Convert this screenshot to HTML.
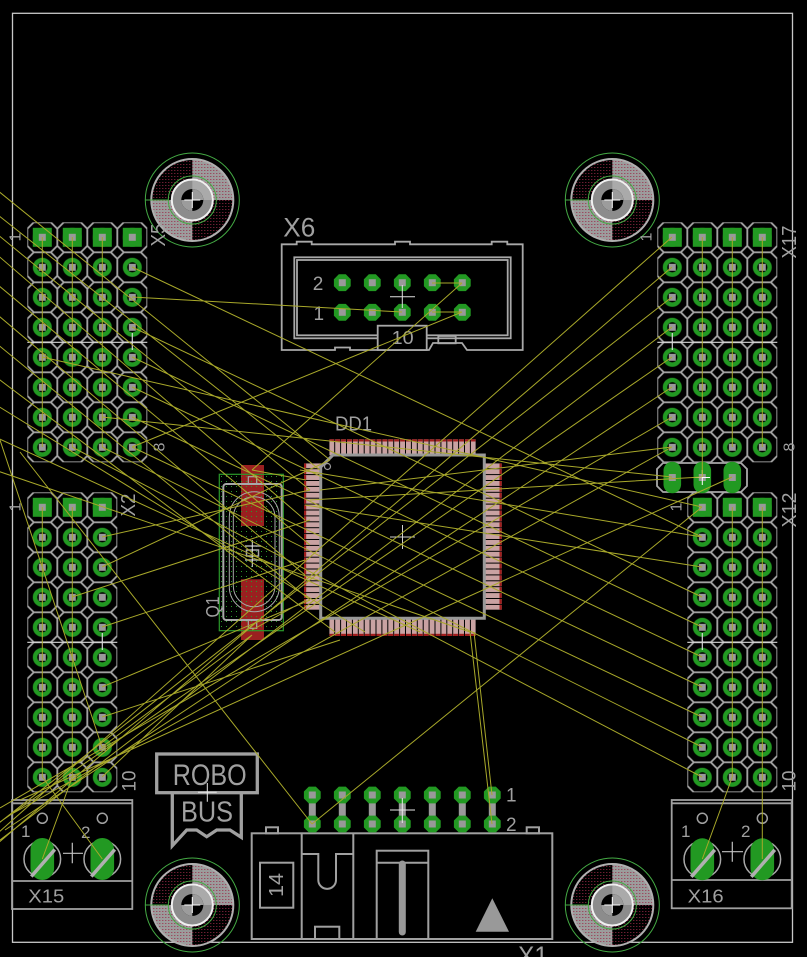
<!DOCTYPE html>
<html><head><meta charset="utf-8"><style>
html,body{margin:0;padding:0;background:#000;}
svg{display:block;}
text{font-family:"Liberation Sans",sans-serif;fill:#a0a0a0;}
</style></head><body>
<svg width="807" height="957" viewBox="0 0 807 957" xmlns="http://www.w3.org/2000/svg">
<defs>
<pattern id="hdr" patternUnits="userSpaceOnUse" x="27.3" y="222.3" width="30" height="30">
 <path d="M6.5,0H23.5L30,6.5V23.5L23.5,30H6.5L0,23.5V6.5Z" fill="none" stroke="#a8a8a8" stroke-width="1.8"/>
 <circle cx="15" cy="15" r="7.3" fill="none" stroke="#229922" stroke-width="4.4"/>
 <rect x="11.5" y="11.5" width="7" height="7" fill="#999"/>
</pattern>
<pattern id="pv" patternUnits="userSpaceOnUse" x="329.3" y="0" width="5.9" height="957"><rect width="4.9" height="957" fill="#c9a2a2"/></pattern>
<pattern id="pvr" patternUnits="userSpaceOnUse" x="329.3" y="0" width="5.9" height="957"><rect width="4.9" height="957" fill="#a01c1c"/></pattern>
<pattern id="ph" patternUnits="userSpaceOnUse" x="0" y="463.3" width="807" height="5.9"><rect width="807" height="4.9" fill="#c9a2a2"/></pattern>
<pattern id="phr" patternUnits="userSpaceOnUse" x="0" y="463.3" width="807" height="5.9"><rect width="807" height="4.9" fill="#a01c1c"/></pattern>
<pattern id="gd" patternUnits="userSpaceOnUse" x="219" y="474" width="5" height="5"><rect x="2" y="2" width="1" height="1" fill="#2a9a2a"/></pattern>
<pattern id="pd" patternUnits="userSpaceOnUse" x="0" y="0" width="3" height="3"><rect width="1" height="1" fill="#9a2a48"/></pattern>
<g id="mh">
 <circle r="41" fill="#000"/>
 <path d="M0 0V-41A41 41 0 0 1 41 0Z" fill="#9c9c9c"/>
 <path d="M0 0V41A41 41 0 0 1 -41 0Z" fill="#9c9c9c"/>
 <circle r="41" fill="url(#pd)"/>
 <circle r="41" fill="none" stroke="#b0b0b0" stroke-width="2"/>
 <circle r="47" fill="none" stroke="#44aa44" stroke-width="1"/>
 <line x1="-47" y1="0" x2="-24" y2="0" stroke="#44aa44"/>
 <circle r="24" fill="none" stroke="#44aa44"/>
 <circle r="20.5" fill="#8c8c8c" stroke="#f0f0f0" stroke-width="2"/>
 <path d="M0 0V-19.5A19.5 19.5 0 0 1 19.5 0Z" fill="#aaaaaa"/>
 <circle r="11" fill="#000"/>
 <path d="M0 0V-11A11 11 0 0 1 11 0Z" fill="#9c9c9c"/>
 <path d="M0 0V11A11 11 0 0 1 -11 0Z" fill="#9c9c9c"/>
 <path d="M-8 0H8M0 -8V8" stroke="#fff" stroke-width="1"/>
</g>
<g id="op"><path d="M-3.5,-8.4H3.5L8.4,-3.5V3.5L3.5,8.4H-3.5L-8.4,3.5V-3.5Z" fill="#229922"/><rect x="-3.5" y="-3.5" width="7" height="7" fill="#999"/></g>
<g id="sq"><rect x="-9.5" y="-9.5" width="19" height="19" fill="#229922"/><rect x="-3.5" y="-3.5" width="7" height="7" fill="#999"/></g>
<g id="tp"><circle r="18.3" fill="none" stroke="#a8a8a8" stroke-width="1.5"/><rect x="-11.8" y="-21" width="23.6" height="42" rx="11.8" fill="#229922"/><line x1="-11" y1="17.5" x2="12.5" y2="-9.5" stroke="#b0b0b0" stroke-width="3.5"/></g>
<g id="jp"><rect x="-8.8" y="-15.8" width="17.6" height="31.6" rx="8.8" fill="#229922"/><rect x="-3.5" y="-3.5" width="7" height="7" fill="#999"/></g>
</defs>

<rect width="807" height="957" fill="#000"/>
<rect x="12.5" y="13.3" width="780" height="929" fill="none" stroke="#c8c8c8" stroke-width="1.3"/>

<use href="#mh" x="192.3" y="200"/>
<use href="#mh" x="612.3" y="200"/>
<use href="#mh" x="192.3" y="905"/>
<use href="#mh" x="612.3" y="905"/>

<rect x="27.3" y="222.3" width="120" height="240" fill="url(#hdr)"/>
<rect x="27.3" y="492.3" width="90" height="300" fill="url(#hdr)"/>
<rect x="657.3" y="222.3" width="120" height="240" fill="url(#hdr)"/>
<rect x="687.3" y="492.3" width="90" height="300" fill="url(#hdr)"/>
<g stroke="#d8d8d8" stroke-width="1.2">
<line x1="27.3" y1="342.3" x2="147.3" y2="342.3"/>
<line x1="27.3" y1="642.3" x2="117.3" y2="642.3"/>
<line x1="657.3" y1="342.3" x2="777.3" y2="342.3"/>
<line x1="687.3" y1="642.3" x2="777.3" y2="642.3"/>
<line x1="132.3" y1="333" x2="132.3" y2="350"/>
<line x1="102.3" y1="633" x2="102.3" y2="650"/>
<line x1="672.3" y1="333" x2="672.3" y2="350"/>
<line x1="702.3" y1="633" x2="702.3" y2="650"/>
</g>
<use href="#sq" x="42.3" y="237.3"/><use href="#sq" x="72.3" y="237.3"/><use href="#sq" x="102.3" y="237.3"/><use href="#sq" x="132.3" y="237.3"/>
<use href="#sq" x="42.3" y="507.3"/><use href="#sq" x="72.3" y="507.3"/><use href="#sq" x="102.3" y="507.3"/>
<use href="#sq" x="672.3" y="237.3"/><use href="#sq" x="702.3" y="237.3"/><use href="#sq" x="732.3" y="237.3"/><use href="#sq" x="762.3" y="237.3"/>
<use href="#sq" x="702.3" y="507.3"/><use href="#sq" x="732.3" y="507.3"/><use href="#sq" x="762.3" y="507.3"/>

<path d="M663 463H741L747 469V486L741 492H663L657 486V469Z" fill="none" stroke="#a8a8a8" stroke-width="1.8"/>
<use href="#jp" x="672.3" y="477.5"/><use href="#jp" x="702.3" y="477.5"/><use href="#jp" x="732.3" y="477.5"/>
<path d="M694 477.5H710M702.3 470V485" stroke="#fff" stroke-width="1"/>

<text font-size="16" text-anchor="middle" dominant-baseline="central" transform="translate(16,237) rotate(-90)">1</text>
<text font-size="20" text-anchor="middle" dominant-baseline="central" textLength="23" lengthAdjust="spacingAndGlyphs" transform="translate(159,235) rotate(-90)">X5</text>
<text font-size="16" text-anchor="middle" dominant-baseline="central" transform="translate(160,447) rotate(-90)">8</text>
<text font-size="16" text-anchor="middle" dominant-baseline="central" transform="translate(16,507) rotate(-90)">1</text>
<text font-size="20" text-anchor="middle" dominant-baseline="central" textLength="23" lengthAdjust="spacingAndGlyphs" transform="translate(129,505) rotate(-90)">X2</text>
<text font-size="19" text-anchor="middle" dominant-baseline="central" textLength="21" lengthAdjust="spacingAndGlyphs" transform="translate(130,781) rotate(-90)">10</text>
<text font-size="16" text-anchor="middle" dominant-baseline="central" transform="translate(647,237) rotate(-90)">1</text>
<text font-size="20" text-anchor="middle" dominant-baseline="central" textLength="33" lengthAdjust="spacingAndGlyphs" transform="translate(790,242) rotate(-90)">X17</text>
<text font-size="16" text-anchor="middle" dominant-baseline="central" transform="translate(790,447) rotate(-90)">8</text>
<text font-size="16" text-anchor="middle" dominant-baseline="central" transform="translate(677,507) rotate(-90)">1</text>
<text font-size="20" text-anchor="middle" dominant-baseline="central" textLength="35" lengthAdjust="spacingAndGlyphs" transform="translate(790,510) rotate(-90)">X12</text>
<text font-size="19" text-anchor="middle" dominant-baseline="central" textLength="21" lengthAdjust="spacingAndGlyphs" transform="translate(790,781) rotate(-90)">10</text>

<g fill="none" stroke="#a8a8a8" stroke-width="1.8">
<path d="M281.7 244.3H296.7V241.7H311.7V244.3H395V241.7H410V244.3H491.7V241.7H507.3V244.3H522.7V350H467L462 343H433L429 350H350V347.5H335V350H281.7Z"/>
<rect x="294.3" y="257.3" width="216.4" height="81"/>
<rect x="297" y="260" width="210.7" height="75.3"/>
<rect x="438.3" y="336" width="17.4" height="7.3"/>
<rect x="377.7" y="325.7" width="49" height="24.3" fill="#000"/>
</g>
<use href="#op" x="342.3" y="282.7"/><use href="#op" x="372.3" y="282.7"/><use href="#op" x="402.3" y="282.7"/><use href="#op" x="432.3" y="282.7"/><use href="#op" x="462.3" y="282.7"/>
<use href="#op" x="342.3" y="312.3"/><use href="#op" x="372.3" y="312.3"/><use href="#op" x="402.3" y="312.3"/><use href="#op" x="432.3" y="312.3"/><use href="#op" x="462.3" y="312.3"/>
<path d="M390 296.7H415M402.3 285V308" stroke="#e0e0e0" stroke-width="1"/>
<text x="283.3" y="236.7" font-size="27" textLength="32" lengthAdjust="spacingAndGlyphs">X6</text>
<text x="391.7" y="344" font-size="18.5" textLength="22" lengthAdjust="spacingAndGlyphs">10</text>
<text x="312.7" y="290" font-size="19">2</text>
<text x="313.5" y="320" font-size="19">1</text>

<rect x="329.3" y="439.3" width="146.4" height="16" fill="url(#pv)"/>
<rect x="329.3" y="439.3" width="146.4" height="2.2" fill="url(#pvr)"/>
<rect x="329.3" y="618" width="146.4" height="18" fill="url(#pv)"/>
<rect x="329.3" y="633.8" width="146.4" height="2.2" fill="url(#pvr)"/>
<rect x="304" y="463.3" width="17" height="146.5" fill="url(#ph)"/>
<rect x="304" y="463.3" width="2.2" height="146.5" fill="url(#phr)"/>
<rect x="484" y="463.3" width="17.7" height="146.5" fill="url(#ph)"/>
<rect x="499.5" y="463.3" width="2.2" height="146.5" fill="url(#phr)"/>
<path d="M333 455H484.3V618.3H320.7V467Z" fill="none" stroke="#999" stroke-width="3"/>
<circle cx="327.5" cy="466.5" r="3" fill="none" stroke="#999" stroke-width="1.2"/>
<path d="M390 537H415M402.5 525V549" stroke="#d0d0d0" stroke-width="1"/>
<text x="335" y="430.7" font-size="20" textLength="37" lengthAdjust="spacingAndGlyphs">DD1</text>

<rect x="219.3" y="474.3" width="64" height="156.4" fill="url(#gd)"/>
<rect x="241" y="465" width="23" height="61" fill="#9a2020"/>
<rect x="241" y="579.3" width="23" height="60.7" fill="#9a2020"/>
<rect x="219.3" y="474.3" width="64" height="156.4" fill="url(#gd)"/>
<rect x="219.3" y="474.3" width="64" height="156.4" fill="none" stroke="#2a9a2a" stroke-width="1.2"/>
<g fill="none" stroke="#a8a8a8">
<rect x="223.3" y="484" width="58.4" height="136" rx="3" stroke-width="2"/>
<rect x="229.3" y="491.7" width="50" height="120" rx="25" stroke-width="1"/>
<rect x="233.3" y="496.7" width="41.7" height="110" rx="20.8" stroke-width="1"/>
<rect x="248.3" y="476.7" width="8.4" height="7.6" stroke-width="1.2"/>
<rect x="248.3" y="620" width="8.4" height="8.3" stroke-width="1.2"/>
<path d="M245 546H261M245 560H261" stroke-width="1.5"/>
<rect x="246.5" y="550" width="12" height="6" stroke-width="1.5"/>
</g>
<line x1="252.3" y1="540" x2="252.3" y2="567" stroke="#e0e0e0"/>
<text font-size="18" text-anchor="middle" dominant-baseline="central" textLength="21" lengthAdjust="spacingAndGlyphs" transform="translate(213,607) rotate(-90)">Q1</text>

<g fill="none" stroke="#a0a0a0" stroke-width="3.3">
<rect x="156.7" y="754" width="100.6" height="38.7"/>
<path d="M172.3 792.7V845.7L186.7 830H196.7L206.7 836.7L216.7 830H230L241.3 837.3V792.7"/>
</g>
<text x="172.7" y="785" font-size="30" textLength="74" lengthAdjust="spacingAndGlyphs">ROBO</text>
<text x="181" y="821.7" font-size="29" textLength="52" lengthAdjust="spacingAndGlyphs">BUS</text>
<path d="M198 792.3H216.7M207.3 783V801.7" stroke="#e8e8e8" stroke-width="1"/>

<g fill="none" stroke="#a0a0a0" stroke-width="1.8">
<rect x="12" y="800" width="120.3" height="109"/>
<line x1="12" y1="803.3" x2="132.3" y2="803.3"/>
<line x1="12" y1="881" x2="132.3" y2="881"/>
<circle cx="42.3" cy="818.3" r="5" stroke-width="1.5"/>
<circle cx="102.3" cy="818.3" r="5" stroke-width="1.5"/>
</g>
<use href="#tp" x="42.3" y="859"/><use href="#tp" x="102.3" y="859"/>
<path d="M63 853.3H83M72.3 842.7V863.3" stroke="#c0c0c0" stroke-width="1.2"/>
<text x="21" y="837" font-size="17">1</text>
<text x="81" y="838" font-size="17">2</text>
<text x="28.3" y="902.3" font-size="18" textLength="36" lengthAdjust="spacingAndGlyphs">X15</text>

<g fill="none" stroke="#a0a0a0" stroke-width="1.8">
<rect x="671.7" y="800" width="120" height="108.3"/>
<line x1="671.7" y1="803.3" x2="791.7" y2="803.3"/>
<line x1="671.7" y1="880" x2="791.7" y2="880"/>
<circle cx="702.3" cy="818.3" r="5" stroke-width="1.5"/>
<circle cx="762.3" cy="818.3" r="5" stroke-width="1.5"/>
</g>
<use href="#tp" x="702.3" y="859.3"/><use href="#tp" x="762.3" y="859.3"/>
<path d="M722 851.7H743M732.3 841.7V861.7" stroke="#c0c0c0" stroke-width="1.2"/>
<text x="681" y="837" font-size="17">1</text>
<text x="741" y="837" font-size="17">2</text>
<text x="687.7" y="902.3" font-size="18" textLength="36" lengthAdjust="spacingAndGlyphs">X16</text>

<g fill="none" stroke="#a0a0a0" stroke-width="2">
<rect x="251.7" y="833.3" width="300.6" height="105.7"/>
<rect x="266" y="827.3" width="12" height="6"/>
<rect x="526.7" y="827.3" width="12.3" height="6"/>
<line x1="301.7" y1="833.3" x2="301.7" y2="939"/>
<line x1="353.3" y1="833.3" x2="353.3" y2="939"/>
<rect x="260" y="862.7" width="33.3" height="45"/>
<path d="M301.7 854H318.3V880A8.85 8.85 0 0 0 336 880V854H353.3"/>
<rect x="315" y="926.7" width="24.3" height="12.3"/>
<rect x="376.7" y="850.7" width="51.6" height="88.3"/>
<line x1="376.7" y1="862.7" x2="428.3" y2="862.7"/>
</g>
<line x1="402.3" y1="864" x2="402.3" y2="932" stroke="#999" stroke-width="7" stroke-linecap="round"/>
<polygon points="492.3,898.3 475.7,931.7 509,931.7" fill="#999"/>
<text font-size="20" text-anchor="middle" dominant-baseline="central" textLength="24" lengthAdjust="spacingAndGlyphs" transform="translate(277,885) rotate(-90)">14</text>
<g fill="#999">
<rect x="308.8" y="795" width="7" height="29"/><rect x="338.8" y="795" width="7" height="29"/><rect x="368.8" y="795" width="7" height="29"/><rect x="398.8" y="795" width="7" height="29"/><rect x="428.8" y="795" width="7" height="29"/><rect x="458.8" y="795" width="7" height="29"/><rect x="488.8" y="795" width="7" height="29"/>
</g>
<use href="#op" x="312.3" y="795"/><use href="#op" x="342.3" y="795"/><use href="#op" x="372.3" y="795"/><use href="#op" x="402.3" y="795"/><use href="#op" x="432.3" y="795"/><use href="#op" x="462.3" y="795"/><use href="#op" x="492.3" y="795"/>
<use href="#op" x="312.3" y="824"/><use href="#op" x="342.3" y="824"/><use href="#op" x="372.3" y="824"/><use href="#op" x="402.3" y="824"/><use href="#op" x="432.3" y="824"/><use href="#op" x="462.3" y="824"/><use href="#op" x="492.3" y="824"/>
<path d="M390 810H415M402.3 798V823" stroke="#e8e8e8" stroke-width="1"/>
<text x="506" y="801.7" font-size="19">1</text>
<text x="506" y="831" font-size="19">2</text>
<text x="518" y="965" font-size="27" textLength="30" lengthAdjust="spacingAndGlyphs">X1</text>

<path fill="none" stroke="#a8a82a" stroke-width="1" d="
M42.3 237L42.3 447 M72.3 237L72.3 447 M102.3 237L102.3 447
M42.3 507L42.3 777 M72.3 507L72.3 777
M702.3 237L702.3 477 M732.3 237L732.3 447 M762.3 237L762.3 447
M732.3 507L732.3 777 M762.3 507L762.3 859
M702.3 859L732.3 777
M42.3 859L72.3 777 M102.3 859L42.3 777
M432 283L462 283 M432 312L462 312 M132 297L402 312 M462 283L252 470 M462 312L132 447
M132 267L702 537 M132 327L702 597 M132 357L702 627 M132 387L702 657 M132 417L702 687 M132 447L702 717
M102 447L702 747 M72 447L702 777 M102 417L672 477 M42 357L702 507
M-10 840L672 237 M-10 850L672 267 M-10 830L672 297 M0 840L672 327 M0 822L672 357 M5 830L672 387 M0 808L672 417 M10 815L672 447 M20 800L732 477
M312 824L702 507 M312 824L20 452 M470 632L492 824 M474 632L492 795
M-40 160L330 460 M-40 185L320 470 M-30 212L310 490 M-20 240L305 520 M-20 270L310 545 M-20 300L305 575 M-20 330L310 600 M-20 365L335 632 M-20 395L365 632 M-20 430L420 632 M-20 465L470 632 M0 440L102 747
M320 490L672 447 M310 500L702 477 M300 470L702 537 M305 505L702 567
M252 470L306 480 M252 630L306 600 M252 635L102 747 M252 635L102 777
M102 537L310 490 M102 567L330 460 M72 597L310 520 M102 627L305 560 M102 687L310 600 M102 717L340 640
"/>
</svg>
</body></html>
